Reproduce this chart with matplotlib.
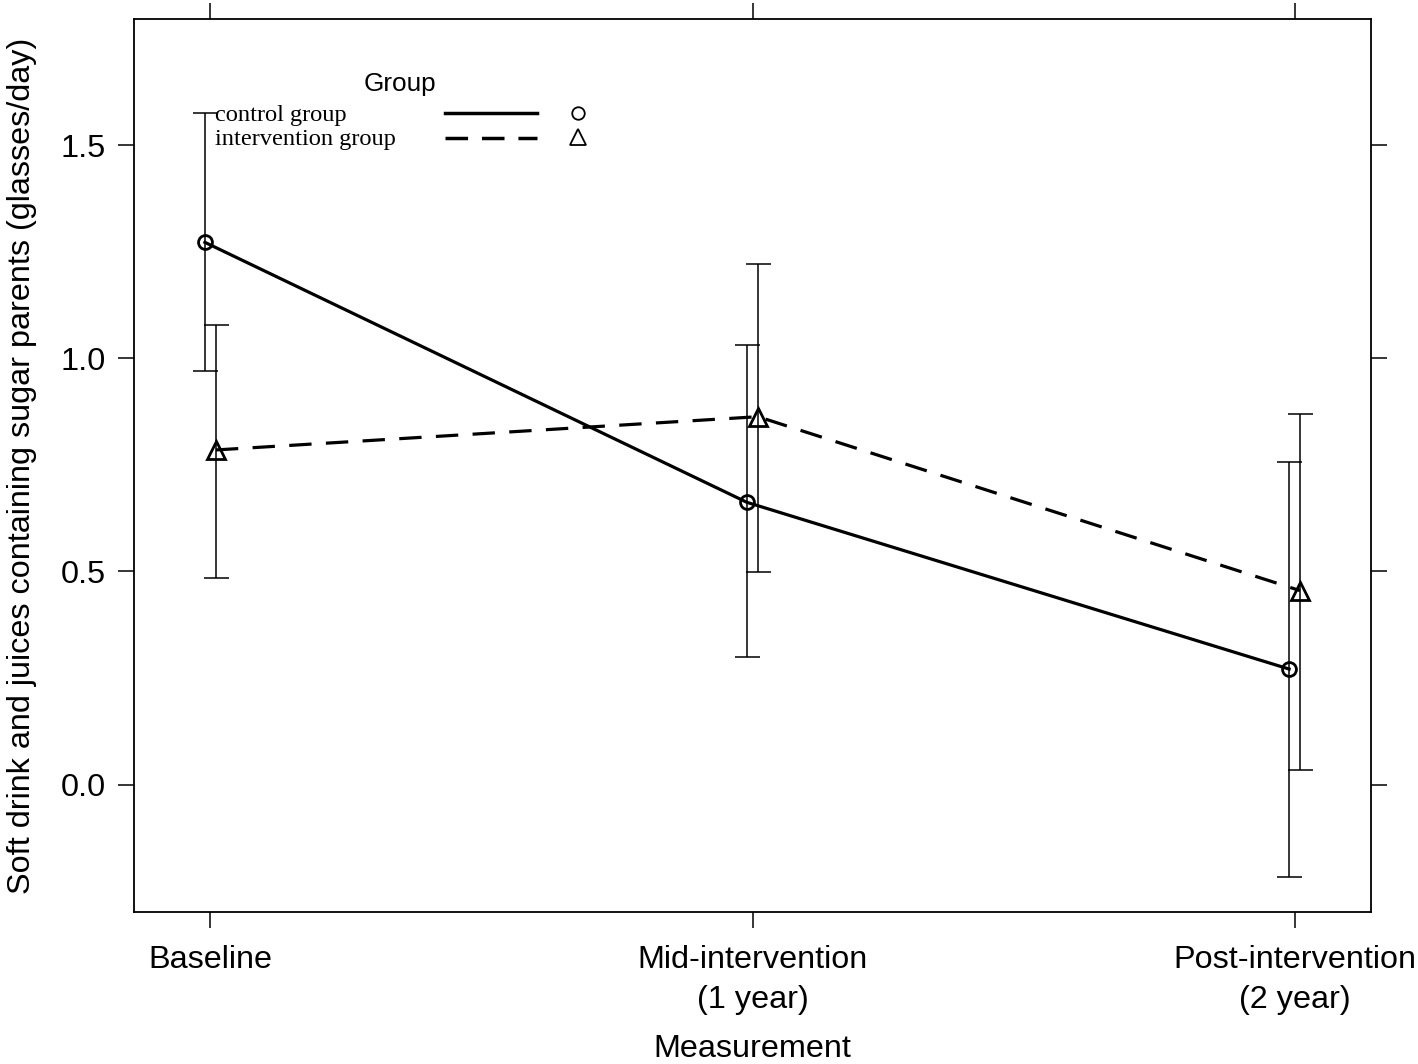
import matplotlib
matplotlib.use("Agg")
import matplotlib.pyplot as plt
from matplotlib.lines import Line2D
import numpy as np

# ---- data ----
categories = ["Baseline", "Mid-intervention\n(1 year)", "Post-intervention\n(2 year)"]
control_mean = [1.272, 0.662, 0.271]
control_lo = [0.970, 0.300, -0.216]
control_hi = [1.575, 1.031, 0.756]
interv_mean = [0.785, 0.863, 0.455]
interv_lo = [0.485, 0.498, 0.035]
interv_hi = [1.077, 1.221, 0.870]
yticks = [0.0, 0.5, 1.0, 1.5]

plt.rcParams["font.family"] = ["Liberation Sans", "DejaVu Sans"]

W, H = 1418, 1064
fig = plt.figure(figsize=(W / 100, H / 100), dpi=100)
ax = fig.add_axes([134 / W, 1 - 912 / H, (1371 - 134) / W, (912 - 19) / H])

x = np.arange(len(categories))
off = 0.0101
lw_line = 2.3
lw_err = 1.1
cap = 9
fs = 23.3

# control: solid + circles
c_mean = np.array(control_mean)
ax.errorbar(x - off, c_mean,
            yerr=[c_mean - np.array(control_lo), np.array(control_hi) - c_mean],
            fmt="none", ecolor="black", elinewidth=lw_err, capsize=cap,
            capthick=lw_err, zorder=2)
ax.plot(x - off, c_mean, color="black", lw=lw_line, marker="o", ms=10,
        mfc="none", mec="black", mew=2.0, zorder=3)

# intervention: dashed + triangles
i_mean = np.array(interv_mean)
ax.errorbar(x + off, i_mean,
            yerr=[i_mean - np.array(interv_lo), np.array(interv_hi) - i_mean],
            fmt="none", ecolor="black", elinewidth=lw_err, capsize=cap,
            capthick=lw_err, zorder=2)
ax.plot(x + off, i_mean, color="black", lw=lw_line, ls=(0, (7, 4.5)),
        marker="^", ms=13, mfc="none", mec="black", mew=2.0, zorder=3)

ax.set_xlim(-0.141, 2.141)
ax.set_ylim(-0.299, 1.796)
ax.set_xticks(x)
ax.set_xticklabels(categories, fontsize=fs, linespacing=1.45)
ax.set_yticks(yticks)
ax.set_yticklabels([f"{v:.1f}" for v in yticks], fontsize=fs)
ax.tick_params(axis="both", which="major", direction="out", length=11.5,
               width=1.1, top=True, right=True, labeltop=False,
               labelright=False)
ax.tick_params(axis="x", pad=12)
ax.tick_params(axis="y", pad=9)
for sp in ax.spines.values():
    sp.set_linewidth(1.3)

ax.set_xlabel("Measurement", fontsize=fs)
ax.xaxis.set_label_coords(0.5, -(1049 - 912) / (912 - 19), transform=ax.transAxes)
ax.xaxis.label.set_va("center")
ax.set_ylabel("Soft drink and juices containing sugar parents (glasses/day)",
              fontsize=fs)
ax.yaxis.set_label_coords(-(134 - 22) / (1371 - 134), 0.5)
ax.yaxis.label.set_va("center")

# ---- lattice-style key ----
def fx(px):
    return px / W

def fy(py):
    return 1 - py / H

fig.text(fx(400), fy(84), "Group", fontsize=18.8, ha="center", va="center")
serif = ["Liberation Serif", "DejaVu Serif"]
fig.text(fx(215), fy(115), "control group", fontsize=17.6, family=serif,
         ha="left", va="center")
fig.text(fx(215), fy(140), "intervention group", fontsize=17.6, family=serif,
         ha="left", va="center")
fig.add_artist(Line2D([fx(445), fx(537)], [fy(113), fy(113)], color="black",
                      lw=2.5, transform=fig.transFigure))
fig.add_artist(Line2D([fx(445), fx(537)], [fy(138), fy(138)], color="black",
                      lw=2.5, ls=(0, (6.5, 4)), transform=fig.transFigure))
fig.add_artist(Line2D([fx(578)], [fy(113)], marker="o", ms=9, mfc="none",
                      mec="black", mew=1.3, ls="none",
                      transform=fig.transFigure))
fig.add_artist(Line2D([fx(578)], [fy(137)], marker="^", ms=11, mfc="none",
                      mec="black", mew=1.3, ls="none",
                      transform=fig.transFigure))

fig.savefig("out.png", dpi=100)
